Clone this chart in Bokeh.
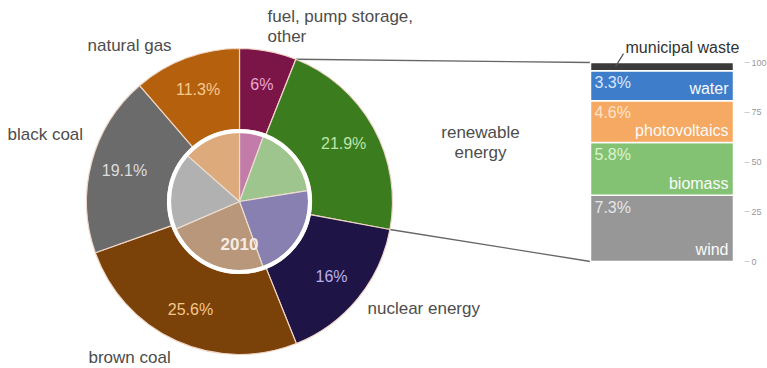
import numpy as np
from bokeh.plotting import figure
from bokeh.models import Range1d, LinearAxis, FixedTicker, Label, ColumnDataSource
from bokeh.core.properties import value
from bokeh.embed import file_html
from bokeh.resources import INLINE

# ---------------- data ----------------
outer_names = ["fuel, pump storage, other", "renewable energy", "nuclear energy",
               "brown coal", "black coal", "natural gas"]
outer_share = [6.0, 21.9, 16.0, 25.6, 19.1, 11.3]
outer_pct_text = ["6%", "21.9%", "16%", "25.6%", "19.1%", "11.3%"]
inner_share_2010 = [5.6, 16.9, 22.0, 24.0, 18.0, 13.5]
inner_year = "2010"
renew_names = ["wind", "biomass", "photovoltaics", "water", "municipal waste"]
renew_share = [7.3, 5.8, 4.6, 3.3, 0.9]
renew_pct_text = ["7.3%", "5.8%", "4.6%", "3.3%", ""]
bar_ticks = [0, 25, 50, 75, 100]

# ---------------- styles ----------------
outer_colors = ["#7b1548", "#3b7c1e", "#1f1446", "#7a4108", "#6b6b6b", "#b5600c"]
outer_text_colors = ["#eaa8cf", "#bde6a8", "#b8b0ec", "#f3c78c", "#dddddd", "#f7c98f"]
inner_colors = ["#c37ca9", "#9dc58d", "#8780b1", "#b9977a", "#b1b1b1", "#dcaa7b"]
bar_colors = ["#979797", "#84c273", "#f5a962", "#3d7dca", "#3a3a3a"]
bar_pct_colors = ["#e6e6e6", "#dcf4d0", "#ffe3cd", "#d9e8ff", "#ffffff"]
FONT = "Liberation Sans"
TXT = "#4d4d4d"

# ---------------- layout (pixel-like units) ----------------
FW, FH = 744, 368
CX, CY = 239, FH - 201
R_OUT, R_IN, R_PIE = 153, 72, 69
BAR_L, BAR_R = 590, 733
BAR_BOT_PX, BAR_TOP_PX = 261, 62
px_per_unit = (BAR_BOT_PX - BAR_TOP_PX) / 100.0
bar_start = -(FH - BAR_BOT_PX) / px_per_unit
bar_end = bar_start + FH / px_per_unit

p = figure(frame_width=FW, frame_height=FH, x_range=Range1d(0, FW), y_range=Range1d(0, FH),
           x_axis_location=None, y_axis_location=None, toolbar_location=None,
           output_backend="svg", min_border=0, outline_line_color=None,
           background_fill_color="white", border_fill_color="white")
p.grid.visible = False
p.extra_y_ranges = {"bar": Range1d(bar_start, bar_end)}

def wedge_angles(vals):
    v = np.array(vals, dtype=float)
    frac = v / v.sum()
    cum = np.cumsum(frac)
    prev = cum - frac
    start = np.pi / 2 - 2 * np.pi * prev
    end = np.pi / 2 - 2 * np.pi * cum
    mid = (prev + cum) / 2
    return start, end, mid, cum

# connector lines (computed from the renewable slice boundaries)
o_start, o_end, o_mid, o_cum = wedge_angles(outer_share)
ren_i = 1
a0 = 2 * np.pi * (o_cum[ren_i] - np.array(outer_share)[ren_i] / sum(outer_share))
a1 = 2 * np.pi * o_cum[ren_i]
p.segment(x0=[CX + R_OUT * np.sin(a0), CX + R_OUT * np.sin(a1)],
          y0=[CY + R_OUT * np.cos(a0), CY + R_OUT * np.cos(a1)],
          x1=[BAR_L, BAR_L], y1=[FH - BAR_TOP_PX, FH - BAR_BOT_PX],
          line_color="#666666", line_width=1.3)

# outer ring
osrc = ColumnDataSource(dict(start=o_start, end=o_end, color=outer_colors))
p.annular_wedge(x=CX, y=CY, inner_radius=R_IN, outer_radius=R_OUT, start_angle="start",
                end_angle="end", direction="clock", fill_color="color",
                line_color="#efd6c8", line_width=1.2, source=osrc)

# inner pie 2010
i_start, i_end, i_mid, i_cum = wedge_angles(inner_share_2010)
isrc = ColumnDataSource(dict(start=i_start, end=i_end, color=inner_colors))
p.wedge(x=CX, y=CY, radius=R_PIE, start_angle="start", end_angle="end", direction="clock",
        fill_color="color", line_color="#eadccf", line_width=1.2, source=isrc)
p.circle(x=[CX], y=[CY], radius=R_PIE + 1.5, fill_color=None, line_color="white", line_width=4)

# percentage labels on the ring
r_lab = 119
ang = 2 * np.pi * o_mid
p.text(x=CX + r_lab * np.sin(ang), y=CY + r_lab * np.cos(ang), text=outer_pct_text,
       text_color=outer_text_colors, text_align="center", text_baseline="middle",
       text_font=value(FONT), text_font_size="16px")
p.text(x=[CX], y=[CY - 42], text=[inner_year], text_color="#f4ece3", text_align="center",
       text_baseline="middle", text_font=value(FONT), text_font_size="17px",
       text_font_style="bold")

# category labels
cat_pos = [(267, 16, "left"), (480, 132, "center"), (367, 308, "left"),
           (88, 357, "left"), (7, 134, "left"), (87, 45, "left")]
for name, (lx, ly, al) in zip(outer_names, cat_pos):
    if name.startswith("fuel"):
        lines = ["fuel, pump storage,", "other"]
    elif name == "renewable energy":
        lines = ["renewable", "energy"]
    else:
        lines = [name]
    for k, ln in enumerate(lines):
        p.add_layout(Label(x=lx, y=FH - (ly + 20 * k), text=ln, text_align=al,
                           text_baseline="middle", text_font=FONT, text_font_size="17px",
                           text_color=TXT))

# stacked bar of renewable components (percent of renewable total)
rs = np.array(renew_share, dtype=float)
norm = rs / rs.sum() * 100
tops = np.cumsum(norm)
bots = tops - norm
bsrc = ColumnDataSource(dict(bottom=bots, top=tops, color=bar_colors))
p.vbar(x=(BAR_L + BAR_R) / 2, width=BAR_R - BAR_L, bottom="bottom", top="top",
       fill_color="color", line_color="white", line_width=1.5, source=bsrc, y_range_name="bar")

n = 4
p.text(x=[BAR_L + 4] * n, y=list(tops[:n]), text=renew_pct_text[:n], y_offset=12,
       text_color=bar_pct_colors[:n], text_align="left", text_baseline="middle",
       text_font=value(FONT), text_font_size="16px", y_range_name="bar")
p.text(x=[BAR_R - 5] * n, y=list(bots[:n]), text=renew_names[:n], y_offset=-12,
       text_color="#fafafa", text_align="right", text_baseline="middle",
       text_font=value(FONT), text_font_size="16px", y_range_name="bar")

# municipal waste label + leader
waste_mid = (tops[4] + bots[4]) / 2
p.segment(x0=[615], y0=[waste_mid], x1=[623], y1=[waste_mid + 13 / px_per_unit],
          line_color="#555555", line_width=1.2, y_range_name="bar")
p.add_layout(Label(x=625, y=FH - 47, text=renew_names[4], text_align="left",
                   text_baseline="middle", text_font=FONT, text_font_size="16px",
                   text_color="#333333"))

ax = LinearAxis(y_range_name="bar", ticker=FixedTicker(ticks=bar_ticks))
ax.axis_line_color = None
ax.major_tick_in = 0
ax.major_tick_out = 5
ax.minor_tick_line_color = None
ax.major_tick_line_color = "#cccccc"
ax.major_label_text_font_size = "9px"
ax.major_label_text_color = "#999999"
ax.major_label_text_font = FONT
ax.major_label_standoff = 2
p.add_layout(ax, "right")

open("out.html", "w").write(file_html(p, INLINE))
